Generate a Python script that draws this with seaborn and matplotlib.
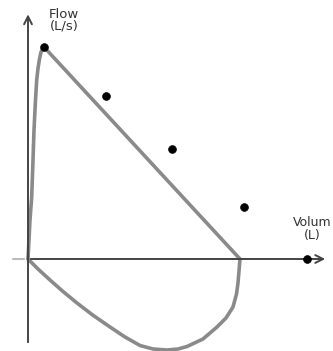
import seaborn as sns
import matplotlib.pyplot as plt
import pandas as pd

# flow-volume loop (volume in L, flow in L/s)
exp_volume = [0, 0.04, 0.074, 0.10, 0.12, 0.15, 0.174, 0.20, 0.226, 0.26, 0.32, 4.24]
exp_flow = [0, 1.56, 2.48, 3.96, 5.16, 6.36, 7.16, 7.62, 7.96, 8.28, 8.48, 0]

insp_volume = [0, 0.20, 0.44, 0.70, 0.98, 1.30, 1.64, 1.94, 2.24, 2.50, 2.78, 3.00,
               3.18, 3.50, 3.78, 3.96, 4.10, 4.17, 4.20, 4.24]
insp_flow = [0, -0.40, -0.84, -1.30, -1.76, -2.25, -2.72, -3.12, -3.46, -3.60, -3.64, -3.60,
             -3.50, -3.20, -2.72, -2.36, -1.92, -1.40, -0.96, 0]

dot_volume = [0.32, 1.56, 2.88, 4.32, 5.58]
dot_flow = [8.48, 6.52, 4.40, 2.08, 0.0]

sns.set_style('white')
fig = plt.figure(figsize=(3.33, 3.51), dpi=100)
ax = fig.add_axes([0, 0, 1, 1])

exp_df = pd.DataFrame({'volume': exp_volume, 'flow': exp_flow})
insp_df = pd.DataFrame({'volume': insp_volume, 'flow': insp_flow})
dots = pd.DataFrame({'volume': dot_volume, 'flow': dot_flow})

sns.lineplot(x='volume', y='flow', data=exp_df, sort=False, estimator=None,
             color='#8a8a8a', lw=2.6, ax=ax)
sns.lineplot(x='volume', y='flow', data=insp_df, sort=False, estimator=None,
             color='#8a8a8a', lw=2.6, ax=ax)

# axes drawn by hand with open arrow heads
ax.annotate('', xy=(0, 9.9), xytext=(0, -3.44),
            arrowprops=dict(arrowstyle='->', color='#444444', lw=1.4,
                            mutation_scale=14))
ax.annotate('', xy=(6.0, 0), xytext=(0, 0),
            arrowprops=dict(arrowstyle='->', color='#444444', lw=1.4,
                            mutation_scale=14))
ax.plot([-0.3, -0.08], [0, 0], color='#bbbbbb', lw=1.5)

sns.scatterplot(x='volume', y='flow', data=dots, color='black', s=32,
                edgecolor='black', zorder=5, ax=ax)

ax.text(0.72, 10.05, 'Flow\n(L/s)', ha='center', va='top', fontsize=9.5,
        color='#333333', linespacing=0.9)
ax.text(5.68, 1.7, 'Volum\n(L)', ha='center', va='top', fontsize=9,
        color='#333333', linespacing=0.9)

ax.set_xlim(-0.56, 6.1)
ax.set_ylim(-3.68, 10.36)
ax.axis('off')

fig.savefig('out.png', dpi=100)
